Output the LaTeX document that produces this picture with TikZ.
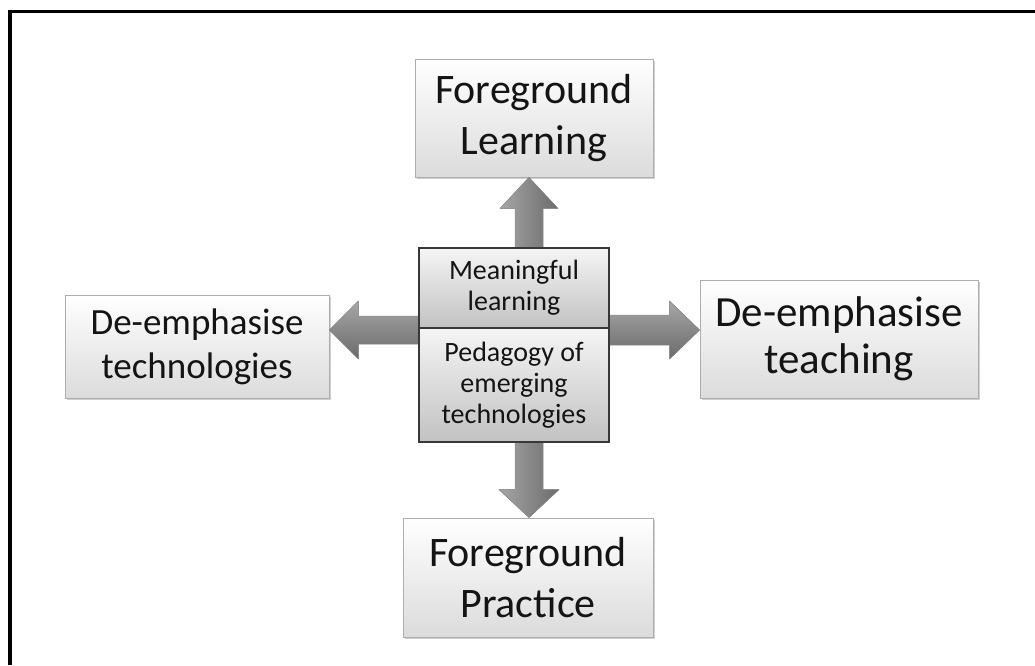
\documentclass[tikz,border=0pt]{standalone}
\usepackage{fontspec}
\setmainfont{Carlito}
\usetikzlibrary{calc,shadows}
\newcommand\fszBig{\fontsize{42}{51}\selectfont}
\newcommand\fszRight{\fontsize{43}{47}\selectfont}
\newcommand\fszLeft{\fontsize{37}{44}\selectfont}
\newcommand\fszMid{\fontsize{28}{31}\selectfont}
\begin{document}
\begin{tikzpicture}[x=1pt,y=-1pt,
  box/.style={draw=black!32, line width=0.8pt, top color=white, bottom color=black!14,
    inner sep=0pt, align=center, text=black!92,
    drop shadow={shadow xshift=1.5pt, shadow yshift=-2pt, opacity=0.3, fill=black!60}},
  midbox/.style={draw=black!78, line width=1.3pt, top color=black!4, bottom color=black!24,
    inner sep=0pt, align=center, text=black!92, minimum width=190pt, font=\fszMid},
  fatv/.style={draw=black!45, line width=0.4pt, left color=black!35, right color=black!58},
  fath/.style={draw=black!45, line width=0.4pt, top color=black!35, bottom color=black!58}]
\useasboundingbox (0,0) rectangle (1035,665);
\fill[white] (0,0) rectangle (1035,665);
\draw[line width=3.5pt] (10,665) -- (10,11.5) -- (1035,11.5);

% boxes
\node[box, font=\fszBig, minimum width=238pt, minimum height=118pt] (top) at (534,118) {Foreground\\Learning};
\node[box, font=\fszLeft, minimum width=264pt, minimum height=103pt] (left) at (197,346.5) {De-emphasise\\technologies};
\node[box, font=\fszRight, minimum width=278pt, minimum height=118pt] (right) at (839,339) {De-emphasise\\teaching};
\node[box, font=\fszBig, minimum width=250pt, minimum height=119pt] (bot) at (528,577.5) {Foreground\\Practice};

\coordinate (ax) at (529,0);
\coordinate (ay) at (0,330);
\path (514,288) coordinate (m1c) (514,385) coordinate (m2c);
\path (419,248) coordinate (mNW) (609,442) coordinate (mSE);

% arrows (drawn under the centre box)
\fill[fatv] ($(ax|-mNW)+(-14,0)$) -- ($(ax|-top.south)+(-14,31)$) -- ($(ax|-top.south)+(-29,31)$)
  -- (ax|-top.south) -- ($(ax|-top.south)+(29,31)$) -- ($(ax|-top.south)+(14,31)$)
  -- ($(ax|-mNW)+(14,0)$) -- cycle;
\fill[fatv] ($(ax|-mSE)+(-14,0)$) -- ($(ax|-bot.north)+(-14,-28)$) -- ($(ax|-bot.north)+(-30,-28)$)
  -- (ax|-bot.north) -- ($(ax|-bot.north)+(30,-28)$) -- ($(ax|-bot.north)+(14,-28)$)
  -- ($(ax|-mSE)+(14,0)$) -- cycle;
\fill[fath] ($(mNW|-ay)+(0,-14)$) -- ($(left.east|-ay)+(29,-14)$) -- ($(left.east|-ay)+(29,-29)$)
  -- (left.east|-ay) -- ($(left.east|-ay)+(29,29)$) -- ($(left.east|-ay)+(29,14)$)
  -- ($(mNW|-ay)+(0,14)$) -- cycle;
\fill[fath] ($(mSE|-ay)+(0,-15)$) -- ($(right.west|-ay)+(-30,-15)$) -- ($(right.west|-ay)+(-30,-29)$)
  -- (right.west|-ay) -- ($(right.west|-ay)+(-30,29)$) -- ($(right.west|-ay)+(-30,15)$)
  -- ($(mSE|-ay)+(0,15)$) -- cycle;

% centre box
\node[midbox, minimum height=80pt] (mid1) at (m1c) {Meaningful\\learning};
\node[midbox, minimum height=114pt] (mid2) at (m2c) {Pedagogy of\\emerging\\technologies};
\end{tikzpicture}
\end{document}
